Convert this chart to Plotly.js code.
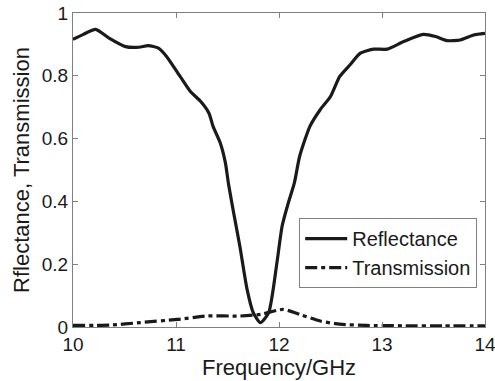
<!DOCTYPE html>
<html>
<head>
<meta charset="utf-8">
<script src="https://cdn.plot.ly/plotly-3.0.1.min.js"></script>
<style>html,body{margin:0;padding:0;background:#fff;}#chart{width:495px;height:381px;}</style>
</head>
<body>
<div id="chart"></div>
<script>
var seriesNames = ["Reflectance", "Transmission"];
var reflFreq = [10.00, 10.10, 10.22, 10.35, 10.51, 10.64, 10.73, 10.83, 10.91, 11.04, 11.14, 11.24, 11.32, 11.36, 11.43, 11.48, 11.51, 11.56, 11.62, 11.69, 11.75, 11.82, 11.90, 11.98, 12.03, 12.09, 12.15, 12.20, 12.30, 12.40, 12.50, 12.59, 12.69, 12.79, 12.92, 13.05, 13.21, 13.40, 13.52, 13.63, 13.76, 13.89, 14.00];
var reflValues = [0.916, 0.932, 0.948, 0.920, 0.893, 0.891, 0.896, 0.888, 0.861, 0.798, 0.750, 0.718, 0.681, 0.639, 0.586, 0.522, 0.455, 0.363, 0.257, 0.120, 0.046, 0.014, 0.046, 0.205, 0.321, 0.395, 0.460, 0.543, 0.639, 0.692, 0.734, 0.798, 0.835, 0.872, 0.885, 0.885, 0.909, 0.932, 0.925, 0.912, 0.914, 0.930, 0.935];
var transFreq = [10.00, 10.36, 10.65, 11.01, 11.30, 11.62, 11.82, 12.04, 12.20, 12.40, 12.59, 12.85, 13.20, 13.60, 14.00];
var transValues = [0.005, 0.006, 0.014, 0.024, 0.035, 0.035, 0.040, 0.056, 0.040, 0.019, 0.009, 0.005, 0.004, 0.004, 0.004];
var xTickVals = [10, 11, 12, 13, 14];
var xTickText = ["10", "11", "12", "13", "14"];
var yTickVals = [0, 0.2, 0.4, 0.6, 0.8, 1];
var yTickText = ["0", "0.2", "0.4", "0.6", "0.8", "1"];
var xTitle = "Frequency/GHz";
var yTitle = "Rflectance, Transmission";

var traces = [
  {x: reflFreq, y: reflValues, name: seriesNames[0], mode: "lines",
   line: {color: "#1a1a1a", width: 3.2, shape: "spline", smoothing: 0.6}},
  {x: transFreq, y: transValues, name: seriesNames[1], mode: "lines",
   line: {color: "#1a1a1a", width: 3.2, dash: "12px,4px,4px,4px", shape: "spline", smoothing: 0.6}}
];

var axisCommon = {
  showgrid: false, zeroline: false, showline: true, mirror: "ticks",
  linecolor: "#808080", linewidth: 1, ticks: "inside", ticklen: 5,
  tickcolor: "#808080", ticklabeloverflow: "allow",
  tickfont: {family: "Liberation Sans, Arial, sans-serif", size: 19, color: "#1a1a1a"}
};

var layout = {
  width: 495, height: 381,
  margin: {l: 73, r: 10, t: 13, b: 54},
  paper_bgcolor: "#ffffff", plot_bgcolor: "#ffffff",
  font: {family: "Liberation Sans, Arial, sans-serif", color: "#1a1a1a"},
  showlegend: true,
  legend: {x: 0.549, y: 0.347, xanchor: "left", yanchor: "top", itemwidth: 42,
    bordercolor: "#808080", borderwidth: 1, bgcolor: "#ffffff",
    font: {size: 20, color: "#1a1a1a"}},
  xaxis: Object.assign({}, axisCommon, {range: [10, 14], tickvals: xTickVals, ticktext: xTickText,
    title: {text: xTitle, font: {size: 22, color: "#1a1a1a"}, standoff: 4}}),
  yaxis: Object.assign({}, axisCommon, {range: [0, 1], tickvals: yTickVals, ticktext: yTickText,
    title: {text: yTitle, font: {size: 22, color: "#1a1a1a"}, standoff: 6}})
};

Plotly.newPlot("chart", traces, layout, {staticPlot: true, displayModeBar: false});
</script>
</body>
</html>
